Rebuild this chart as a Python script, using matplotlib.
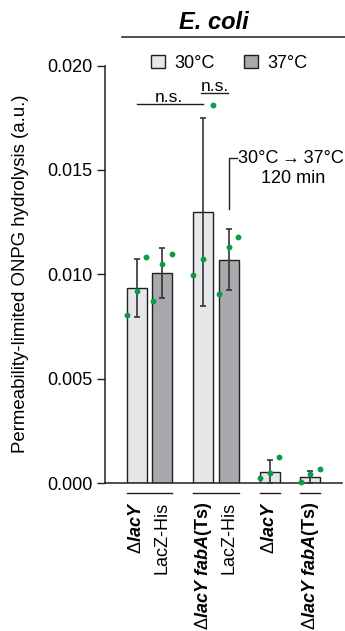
import numpy as np
import matplotlib
matplotlib.use('Agg')
import matplotlib.pyplot as plt
from matplotlib.patches import Patch
from matplotlib.lines import Line2D
import matplotlib.transforms as mtransforms

# ---------- fonts ----------
plt.rcParams['font.family'] = ['Liberation Sans', 'DejaVu Sans']
plt.rcParams['mathtext.fontset'] = 'custom'
plt.rcParams['mathtext.rm'] = 'Liberation Sans'
plt.rcParams['mathtext.bf'] = 'Liberation Sans:bold'
plt.rcParams['mathtext.it'] = 'Liberation Sans:italic'
plt.rcParams['mathtext.bfit'] = 'Liberation Sans:italic:bold'

# ---------- data ----------
strains = ['Δ$\\mathbfit{lacY}$', 'LacZ-His',
           'Δ$\\mathbfit{lacY\\ fabA}$$\\mathbf{(Ts)}$', 'LacZ-His',
           'Δ$\\mathbfit{lacY}$',
           'Δ$\\mathbfit{lacY\\ fabA}$$\\mathbf{(Ts)}$']
temps = ['30°C', '37°C', '30°C', '37°C', '30°C', '30°C']
means = [0.00934, 0.01006, 0.01298, 0.0107, 0.00054, 0.00029]
sds = [0.0014, 0.0012, 0.0045, 0.00146, 0.00056, 0.0003]
reps = [
    [0.00807, 0.00919, 0.01083],
    [0.00871, 0.01049, 0.01097],
    [0.00997, 0.01072, 0.01812],
    [0.00904, 0.01129, 0.0118],
    [0.00024, 0.00046, 0.00126],
    [0.00003, 0.00043, 0.00068],
]
xpos = np.array([0, 1, 2.6, 3.6, 5.2, 6.8])
groups = [(0, 1), (2, 3), (4, 4), (5, 5)]

colors = {'30°C': '#e6e7e8', '37°C': '#a7a9ac'}
green = '#0b9a47'
dark = '#231f20'

fig = plt.figure(figsize=(3.45, 6.31), dpi=100)
ax = fig.add_axes([0.3043, 0.2345, 0.687, 0.6616])

bw = 0.78
ax.bar(xpos, means, width=bw, color=[colors[t] for t in temps],
       edgecolor=dark, linewidth=1.0, zorder=2)
ax.errorbar(xpos, means, yerr=sds, fmt='none', ecolor='#333333',
            elinewidth=1.2, capsize=2.2, capthick=1.2, zorder=3)
for x, r in zip(xpos, reps):
    ax.plot(x + np.array([-0.38, 0, 0.38]), r, 'o', color=green,
            markersize=4.2, markeredgewidth=0, zorder=4, clip_on=False)

ax.set_xlim(-1.243, 8.035)
ax.set_ylim(0, 0.020)
ax.set_yticks([0, 0.005, 0.010, 0.015, 0.020])
ax.set_yticklabels(['0.000', '0.005', '0.010', '0.015', '0.020'])
ax.tick_params(axis='y', labelsize=13, length=5.8, width=1.0, direction='out', pad=3,
               color=dark)
ax.set_xticks([])
for s in ['top', 'right']:
    ax.spines[s].set_visible(False)
for s in ['left', 'bottom']:
    ax.spines[s].set_linewidth(1.1)
    ax.spines[s].set_color(dark)

# y label placed in figure coordinates
fig.text(21 / 345, 1 - 274 / 631, 'Permeability-limited ONPG hydrolysis (a.u.)',
         rotation=90, ha='center', va='center', fontsize=13.4)

# strain labels and underlines
trans = mtransforms.blended_transform_factory(ax.transData, ax.transAxes)
for a, b in groups:
    ax.add_line(Line2D([xpos[a] - bw / 2, xpos[b] + bw / 2], [-0.0232, -0.0232],
                       transform=trans, color=dark, lw=1.0, clip_on=False))
for x, lab in zip(xpos, strains):
    ax.text(x, -0.045, lab, transform=trans, rotation=90, ha='center', va='top',
            fontsize=13)

# significance lines
ax.plot([0, 2.58], [0.01814, 0.01814], color=dark, lw=1.0, clip_on=False)
ax.text(1.26, 0.01824, 'n.s.', ha='center', va='baseline', fontsize=12.5)
ax.plot([2.52, 3.57], [0.01869, 0.01869], color=dark, lw=1.0, clip_on=False)
ax.text(3.05, 0.01879, 'n.s.', ha='center', va='baseline', fontsize=12.5)

# temperature shift bracket
ax.plot([3.6, 3.6, 3.92], [0.01311, 0.01555, 0.01555], color=dark, lw=1.0)
ax.text(3.97, 0.01555, '30°C\u2009→\u200937°C', ha='left', va='center', fontsize=13)
ax.text(6.11, 0.01459, '120 min', ha='center', va='center', fontsize=13)

# legend
handles = [Patch(facecolor=colors['30°C'], edgecolor=dark, linewidth=1.0, label='30°C'),
           Patch(facecolor=colors['37°C'], edgecolor=dark, linewidth=1.0, label='37°C')]
fig.legend(handles=handles, loc='center', bbox_to_anchor=(0.665, 0.8997), ncol=2,
           frameon=False, fontsize=13, handlelength=0.75, handleheight=0.75,
           handletextpad=0.55, columnspacing=1.6, borderpad=0)

# title
fig.text(0.619, 0.9636, 'E. coli', ha='center', va='center', fontsize=17,
         fontweight='bold', fontstyle='italic')
fig.add_artist(Line2D([121.7 / 345, 1.0], [1 - 36.7 / 631, 1 - 36.7 / 631],
                      transform=fig.transFigure, color=dark, lw=1.1))

fig.savefig('out.png', dpi=100)
